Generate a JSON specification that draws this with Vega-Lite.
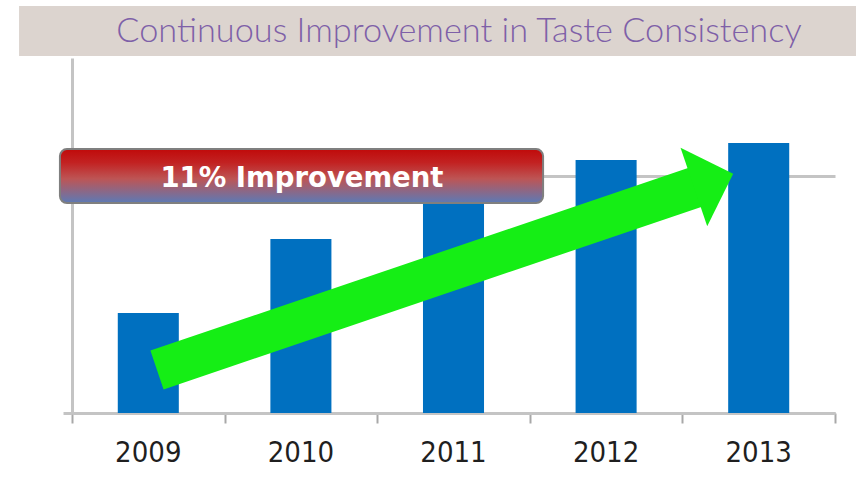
{
  "$schema": "https://vega.github.io/schema/vega-lite/v6.json",
  "width": 763,
  "height": 355,
  "autosize": {"type": "none"},
  "padding": {"left": 72, "top": 58, "right": 21, "bottom": 76},
  "background": "#ffffff",
  "config": {"view": {"stroke": null}},
  "datasets": {
    "bars": [
      {"year": "2009", "value": 42.3},
      {"year": "2010", "value": 73.5},
      {"year": "2011", "value": 92.0},
      {"year": "2012", "value": 106.9},
      {"year": "2013", "value": 114.1}
    ],
    "header": [
      {"x0": -0.347, "x1": 5.138, "y0": 150.8, "y1": 172.0, "tx": 2.536, "ty": 161.0, "title": "Continuous Improvement in Taste Consistency"}
    ],
    "banner": [
      {"x0": -0.079, "x1": 3.087, "y0": 88.7, "y1": 111.5, "lx": 1.507, "ly": 95.5, "label": "11% Improvement"}
    ],
    "arrow": [
      {"ax": 0.557, "ay": 18.17},
      {"ax": 4.109, "ay": 95.9}
    ],
    "head": [
      {"ax": 4.204, "ay": 98.3}
    ]
  },
  "resolve": {"scale": {"x": "independent"}},
  "layer": [
    {
      "data": {"name": "header"},
      "mark": {"type": "rect", "color": "#dcd4cf"},
      "encoding": {
        "x": {
          "field": "x0", "type": "quantitative",
          "scale": {"domain": [0, 5], "nice": false, "zero": false},
          "axis": {
            "orient": "bottom", "title": null, "values": [0, 1, 2, 3, 4, 5],
            "labels": false, "domain": false, "grid": false,
            "ticks": true, "tickSize": 10, "tickWidth": 2, "tickColor": "#a8a8a8"
          }
        },
        "x2": {"field": "x1"},
        "y": {"field": "y0", "type": "quantitative", "scale": {"domain": [0, 150], "nice": false}, "title": null},
        "y2": {"field": "y1"}
      }
    },
    {
      "data": {"name": "header"},
      "mark": {"type": "text", "font": "Lato", "fontWeight": 300, "fontSize": 34.3, "color": "#7e60a8", "align": "center", "baseline": "middle"},
      "encoding": {
        "x": {"field": "tx", "type": "quantitative", "scale": {"domain": [0, 5], "nice": false, "zero": false}, "axis": null},
        "y": {"field": "ty", "type": "quantitative", "scale": {"domain": [0, 150], "nice": false}, "title": null},
        "text": {"field": "title"}
      }
    },
    {
      "data": {"name": "bars"},
      "mark": {"type": "bar", "color": "#0070c0"},
      "encoding": {
        "x": {
          "field": "year", "type": "ordinal",
          "scale": {"paddingInner": 0.6, "paddingOuter": 0.3},
          "axis": {
            "orient": "bottom", "title": null, "labelAngle": 0, "ticks": false,
            "domainColor": "#c4c4c4", "domainWidth": 3,
            "labelFont": "DejaVu Sans Condensed, Liberation Sans", "labelFontSize": 29,
            "labelColor": "#1f1f1f", "labelPadding": 25
          }
        },
        "y": {
          "field": "value", "type": "quantitative",
          "scale": {"domain": [0, 150], "nice": false},
          "title": null,
          "axis": {
            "title": null, "values": [0, 100], "labels": false,
            "grid": true, "gridColor": "#c4c4c4", "gridWidth": 3,
            "domainColor": "#c4c4c4", "domainWidth": 3,
            "tickColor": "#c4c4c4", "tickWidth": 3, "tickSize": 9
          }
        }
      }
    },
    {
      "data": {"name": "banner"},
      "mark": {
        "type": "rect", "cornerRadius": 7, "stroke": "#7f7f7f", "strokeWidth": 2,
        "fill": {
          "gradient": "linear", "x1": 0, "y1": 0, "x2": 0, "y2": 1,
          "stops": [
            {"offset": 0, "color": "#c00a0a"},
            {"offset": 0.25, "color": "#c22222"},
            {"offset": 0.55, "color": "#bd5555"},
            {"offset": 1, "color": "#5c7ab6"}
          ]
        }
      },
      "encoding": {
        "x": {"field": "x0", "type": "quantitative", "scale": {"domain": [0, 5], "nice": false, "zero": false}, "axis": null},
        "x2": {"field": "x1"},
        "y": {"field": "y0", "type": "quantitative", "scale": {"domain": [0, 150], "nice": false}, "title": null},
        "y2": {"field": "y1"}
      }
    },
    {
      "data": {"name": "banner"},
      "mark": {"type": "text", "font": "DejaVu Sans", "fontWeight": "bold", "fontSize": 27.5, "color": "#ffffff", "align": "center", "baseline": "alphabetic"},
      "encoding": {
        "x": {"field": "lx", "type": "quantitative", "scale": {"domain": [0, 5], "nice": false, "zero": false}, "axis": null},
        "y": {"field": "ly", "type": "quantitative", "scale": {"domain": [0, 150], "nice": false}, "title": null},
        "text": {"field": "label"}
      }
    },
    {
      "data": {"name": "arrow"},
      "mark": {"type": "line", "color": "#15ee15", "strokeWidth": 41, "strokeCap": "butt"},
      "encoding": {
        "x": {"field": "ax", "type": "quantitative", "scale": {"domain": [0, 5], "nice": false, "zero": false}, "axis": null},
        "y": {"field": "ay", "type": "quantitative", "scale": {"domain": [0, 150], "nice": false}, "title": null}
      }
    },
    {
      "data": {"name": "head"},
      "mark": {"type": "point", "shape": "M -0.5 -1 L 0.5 0 L -0.5 1 Z", "size": 6889, "angle": -18.75, "filled": true, "opacity": 1, "color": "#15ee15", "strokeWidth": 0},
      "encoding": {
        "x": {"field": "ax", "type": "quantitative", "scale": {"domain": [0, 5], "nice": false, "zero": false}, "axis": null},
        "y": {"field": "ay", "type": "quantitative", "scale": {"domain": [0, 150], "nice": false}, "title": null}
      }
    }
  ]
}
